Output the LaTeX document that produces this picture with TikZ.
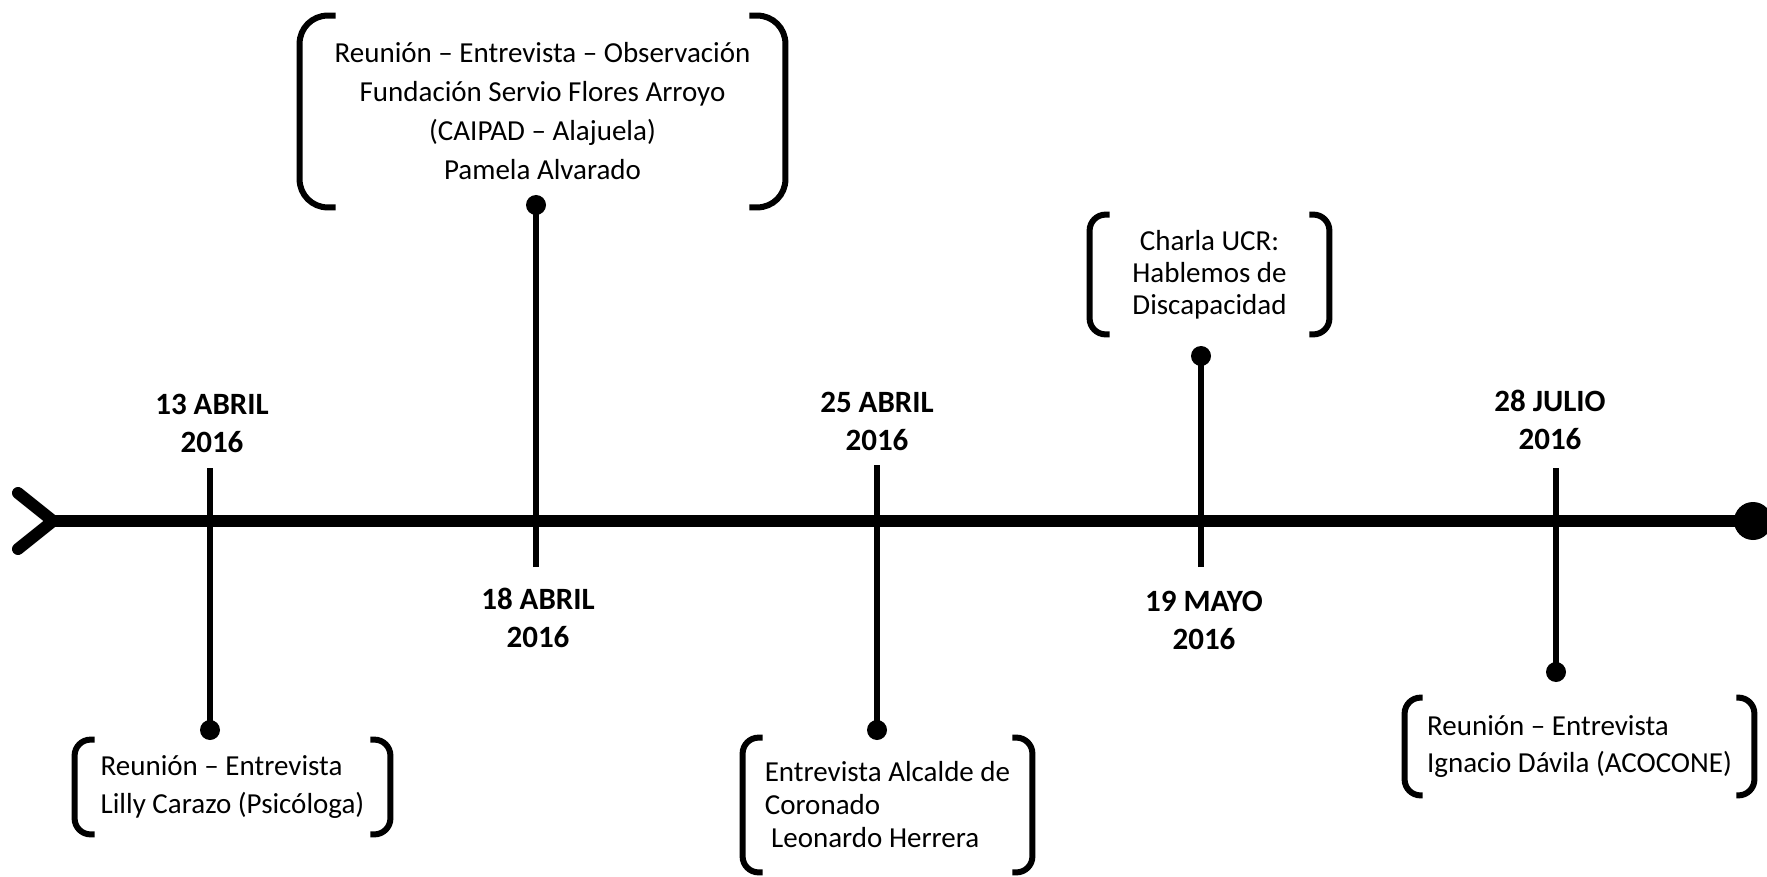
\documentclass[tikz,border=0pt]{standalone}
\usepackage{fontspec}
\setmainfont{Carlito}
\usepackage{tikz}

\begin{document}
\begin{tikzpicture}[x=0.5pt,y=-0.5pt,
  axis/.style={line width=6pt},
  tick/.style={line width=3pt},
  dot/.style={circle,fill,inner sep=0pt,minimum size=10pt},
  datelbl/.style={font=\fontsize{15.5}{19}\selectfont\bfseries,align=center},
  box/.style={inner sep=0pt,font=\fontsize{14.5}{19}\selectfont},
  brk/.style={line width=3pt}]
\useasboundingbox (0,0) rectangle (1767,877);
% time axis
\coordinate (s) at (53,521);
\coordinate (c1) at (18,493);
\coordinate (c2) at (18,549);
\node[circle,fill,inner sep=0pt,minimum size=19pt] (e) at (1753,521) {};
\draw[axis] (s) -- (e.center);
\draw[axis,line cap=round] (c1) -- (s) -- (c2);
% dates
\node[datelbl] (l1) at (212,423) {13 ABRIL\\2016};
\node[datelbl] (l2) at (538,618) {18 ABRIL\\2016};
\node[datelbl] (l3) at (877,421) {25 ABRIL\\2016};
\node[datelbl] (l4) at (1204,620) {19 MAYO\\2016};
\node[datelbl] (l5) at (1550,420) {28 JULIO\\2016};
% ticks
\node[dot] (d1) at (210,730) {};
\node[dot] (d2) at (536,205) {};
\node[dot] (d3) at (877,730) {};
\node[dot] (d4) at (1201,356) {};
\node[dot] (d5) at (1556,672) {};
\coordinate (t1) at (210,468);
\coordinate (t2) at (536,567);
\coordinate (t3) at (877,465);
\coordinate (t4) at (1201,567);
\coordinate (t5) at (1556,468);
\foreach \i in {1,...,5}
  \draw[tick] (t\i) -- (d\i.center);
% events
\node[box,align=left,minimum width=157.5pt,minimum height=47pt] (b1) at (232.5,787)
  {Reunión – Entrevista\\Lilly Carazo (Psicóloga)};
\node[box,align=center,minimum width=242.5pt,minimum height=95.5pt,
  font=\fontsize{14.5}{19.5}\selectfont] (b2) at (542.5,111.5)
  {Reunión – Entrevista – Observación\\Fundación Servio Flores Arroyo\\(CAIPAD – Alajuela)\\Pamela Alvarado};
\node[box,align=left,minimum width=144.5pt,minimum height=67pt,
  font=\fontsize{14.5}{16.5}\selectfont] (b3) at (887.5,805)
  {Entrevista Alcalde de\\Coronado\\\hspace*{0.22em}Leonardo Herrera};
\node[box,align=center,minimum width=119.5pt,minimum height=59.5pt,
  font=\fontsize{14.5}{16}\selectfont] (b4) at (1209.5,274.5)
  {Charla UCR:\\Hablemos de\\Discapacidad};
\node[box,align=left,minimum width=174.5pt,minimum height=48.5pt,
  font=\fontsize{14.5}{18.5}\selectfont] (b5) at (1579.5,746.5)
  {Reunión – Entrevista\\Ignacio Dávila (ACOCONE)};
% brackets
\foreach \b/\s/\r in {b1/10pt/8pt,b2/18pt/14pt,b3/10pt/8pt,b4/10pt/8pt,b5/9pt/8pt} {
  \draw[brk,rounded corners=\r] ([xshift=\s]\b.north west) -- (\b.north west)
    -- (\b.south west) -- ([xshift=\s]\b.south west);
  \draw[brk,rounded corners=\r] ([xshift=-\s]\b.north east) -- (\b.north east)
    -- (\b.south east) -- ([xshift=-\s]\b.south east);
}
\end{tikzpicture}
\end{document}
